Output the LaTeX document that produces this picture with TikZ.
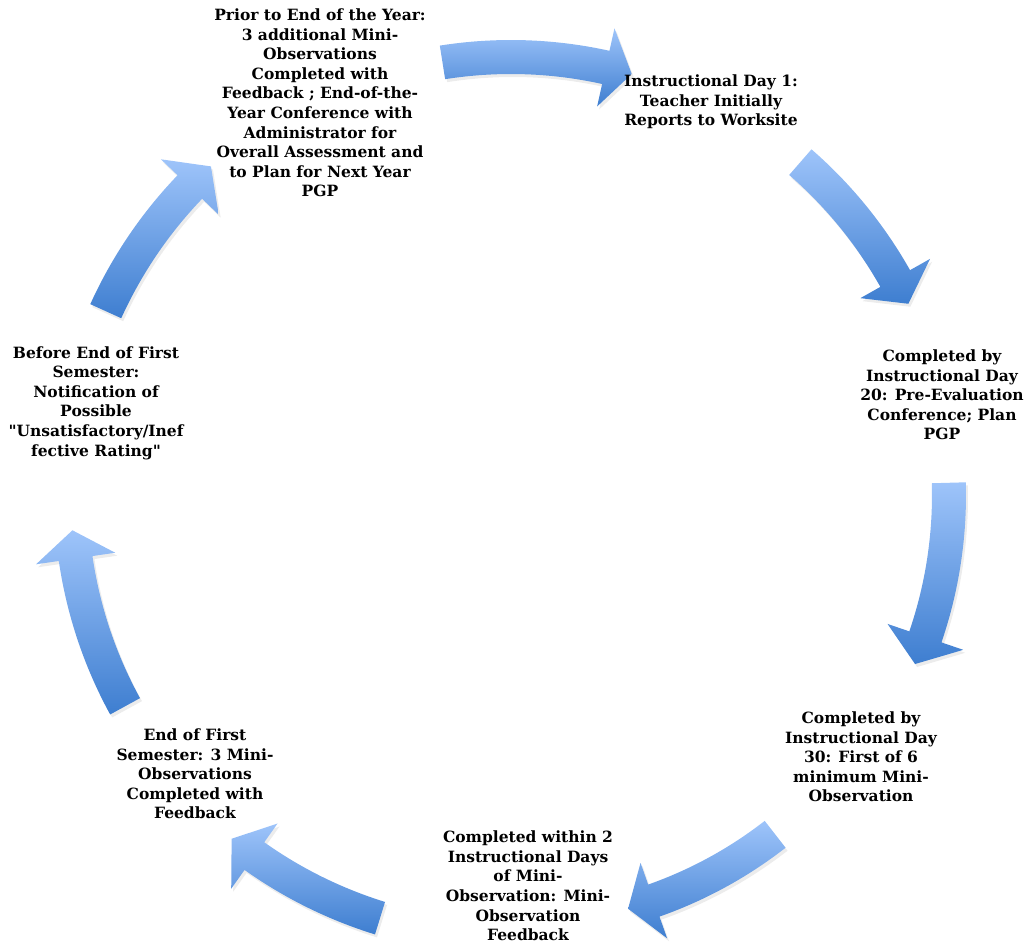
\documentclass[tikz,border=0pt]{standalone}
\usepackage{fontspec}
\setmainfont{DejaVu Serif}[Ligatures=TeXOff]
\usetikzlibrary{calc, shadows}
\definecolor{arrowtop}{HTML}{9EC4FA}
\definecolor{arrowbot}{HTML}{3E7ED0}

\begin{document}
\begin{tikzpicture}[x=1pt, y=-1pt,
    steptext/.style={align=center, font=\fontsize{15.5}{19.6}\selectfont\bfseries, inner sep=0pt},
    arrowfill/.style={top color=arrowtop, bottom color=arrowbot, draw=none,
      drop shadow={opacity=0.15, shadow xshift=2pt, shadow yshift=-3pt}}]
        \useasboundingbox (0,0) rectangle (1027,944);
        \coordinate (ctr) at (511,495);
        % radius, tail angle, head base angle, tip angle
        \def\cycarrow#1#2#3#4{%
          \path[arrowfill] ($(ctr)+(#2:#1+17)$) arc[start angle=#2, end angle=#3, radius=#1+17]
            -- ($(ctr)+(#3:#1+40)$) -- ($(ctr)+(#4:#1)$) -- ($(ctr)+(#3:#1-40)$)
            -- ($(ctr)+(#3:#1-17)$) arc[start angle=#3, end angle=#2, radius=#1-17] -- cycle;}
        \cycarrow{438}{-99}{-77.5}{-74}
        \cycarrow{441}{-49}{-29.4}{-25.7}
        \cycarrow{438}{-1.6}{18.9}{22.7}
        \cycarrow{430}{52.1}{70.6}{74.2}
        \cycarrow{443}{107.2}{125.4}{129.1}
        \cycarrow{440}{151.3}{171.7}{175.4}
        \cycarrow{445}{204.4}{223.8}{227.6}

        \node[steptext] (day1) at (711,102) {Instructional Day 1:\\Teacher Initially\\Reports to Worksite};
        \node[steptext] (day20) at (942,395) {Completed by\\Instructional Day\\20: Pre-Evaluation\\Conference; Plan\\PGP};
        \node[steptext] (day30) at (861,757) {Completed by\\Instructional Day\\30: First of 6\\minimum Mini-\\Observation};
        \node[steptext] (feedback) at (528,886) {Completed within 2\\Instructional Days\\of Mini-\\Observation: Mini-\\Observation\\Feedback};
        \node[steptext] (semester) at (195,774) {End of First\\Semester: 3 Mini-\\Observations\\Completed with\\Feedback};
        \node[steptext] (notice) at (96,403) {Before End of First\\Semester:\\Notification of\\Possible\\"Unsatisfactory/Inef\\fective Rating"};
        \node[steptext] (yearend) at (320,103) {Prior to End of the Year:\\3 additional  Mini-\\Observations\\Completed with\\Feedback ; End-of-the-\\Year Conference with\\Administrator for\\Overall Assessment and\\to Plan for Next Year\\PGP};
    \end{tikzpicture}
\end{document}
